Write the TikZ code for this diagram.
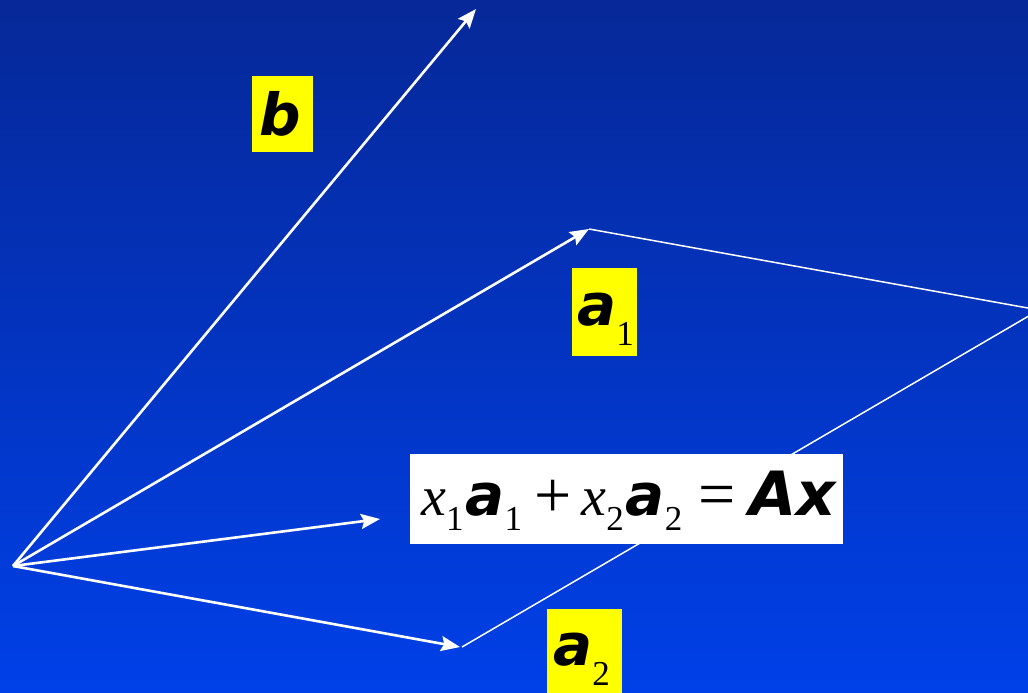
\documentclass[tikz,border=0pt]{standalone}
\usepackage{fontspec}
\setmainfont{Liberation Serif}
\newfontfamily\vsans{DejaVu Sans}
\usetikzlibrary{arrows.meta}
\definecolor{bgtop}{RGB}{6,40,152}
\definecolor{bgbot}{RGB}{0,64,232}
\definecolor{lab}{RGB}{255,255,0}
\newcommand{\bvec}[1]{{\fontsize{58}{58}\vsans\bfseries\itshape #1}}
\newcommand{\bvecl}[1]{{\fontsize{61}{61}\vsans\bfseries\itshape #1}}
\newcommand{\sbs}[1]{\raisebox{-0.36em}{\fontsize{35}{35}\selectfont #1}}
\newcommand{\sbf}[1]{\raisebox{-0.28em}{\fontsize{35}{35}\selectfont #1}}
\newcommand{\bigop}[1]{{\fontsize{66}{66}\selectfont #1}}
\begin{document}
\begin{tikzpicture}[x=1pt,y=-1pt,
  vec/.style={draw=white,line width=2.6pt,-{Stealth[length=19pt,width=15pt,inset=3pt]}},
  thin/.style={draw=white,line width=1.5pt},
  ybox/.style={fill=lab,draw=none,inner sep=0pt},
  wbox/.style={fill=white,draw=none,inner sep=0pt},
  txt/.style={anchor=base west,inner sep=0pt,font=\fontsize{56}{56}\selectfont}]
\useasboundingbox (0,0) rectangle (1028,693);
\shade[top color=bgtop,bottom color=bgbot] (0,0) rectangle (1028,693);
\begin{scope}
\clip (0,0) rectangle (1028,693);
\coordinate (O) at (13,566);
\coordinate (B) at (476,9);
\coordinate (A1) at (589,229);
\coordinate (AX) at (380,519);
\coordinate (A2) at (460,647);
\coordinate (A2s) at (462,647);
\coordinate (V) at (1039,310);
\draw[vec] (O) -- (B);
\draw[vec] (O) -- (A1);
\draw[vec] (O) -- (AX);
\draw[vec] (O) -- (A2);
\draw[thin] (A1) -- (V);
\draw[thin] (A2s) -- (V);
\node[ybox,minimum width=61pt,minimum height=76pt] (bbox) at (282.5,114) {};
\node[ybox,minimum width=65pt,minimum height=88pt] (a1box) at (604.5,312) {};
\node[ybox,minimum width=75pt,minimum height=90pt] (a2box) at (584.5,654) {};
\node[wbox,minimum width=433pt,minimum height=90pt] (fbox) at (626.5,499) {};
\node[txt] (btxt) at (259,135) {\bvec{b}};
\node[txt] (a1txt) at (577,325) {\bvec{a}\sbs{1}};
\node[txt] (a2txt) at (553,665) {\bvec{a}\sbs{2}};
\node[txt] (ftxt) at (421,515) {\textit{x}\sbf{1}\hspace{2pt}\bvec{a}\sbf{1}\hspace{12pt}\raisebox{-2pt}{\bigop{+}}\hspace{10pt}\textit{x}\sbf{2}\hspace{2pt}\bvec{a}\sbf{2}\hspace{16pt}\raisebox{-1pt}{\bigop{=}}\hspace{14pt}\bvecl{Ax}};
\end{scope}
\end{tikzpicture}
\end{document}
